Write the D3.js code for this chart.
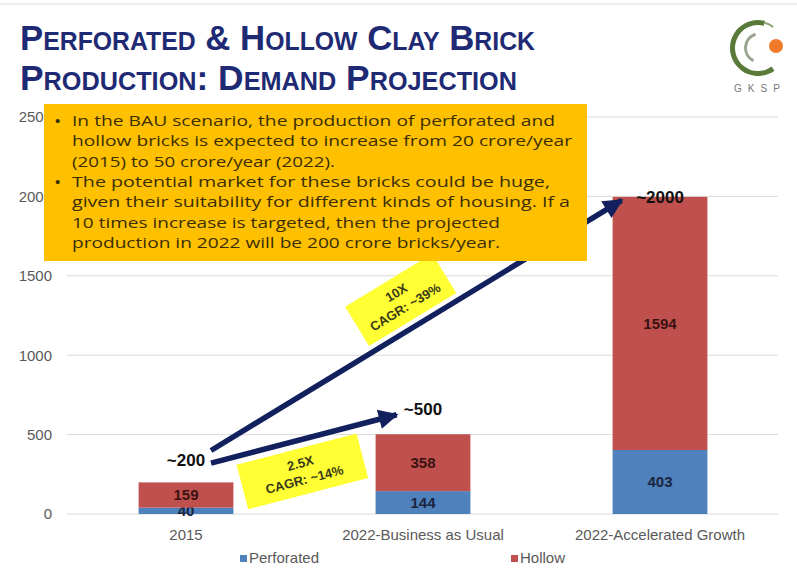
<!DOCTYPE html>
<html>
<head>
<meta charset="utf-8">
<script src="https://cdn.jsdelivr.net/npm/d3@7"></script>
<style>
  body { margin: 0; background: #fff; }
  svg { display: block; }
</style>
</head>
<body>
<div id="chart"></div>
<script>
// chart data
const categories = ["2015", "2022-Business as Usual", "2022-Accelerated Growth"];
const seriesNames = ["Perforated", "Hollow"];
const perforated = [40, 144, 403];
const hollow = [159, 358, 1594];
const totalLabels = ["~200", "~500", "~2000"];
const totalLabelVals = [340, 660, 2000];
const yTicks = [0, 500, 1000, 1500, 2000, 2500];

const titleLines = ["Perforated & Hollow Clay Brick", "Production: Demand Projection"];
const noteLines = [
    { bullet: true, text: "In the BAU scenario, the production of perforated and" },
    { bullet: false, text: "hollow bricks is expected to increase from 20 crore/year" },
    { bullet: false, text: "(2015) to 50 crore/year (2022)." },
    { bullet: true, text: "The potential market for these bricks could be huge," },
    { bullet: false, text: "given their suitability for different kinds of housing. If a" },
    { bullet: false, text: "10 times increase is targeted, then the projected" },
    { bullet: false, text: "production in 2022 will be 200 crore bricks/year." }
];
const noteWidths = [483, 500, 263, 478, 498, 428, 428];

// growth arrows: from the 2015 bar to the projected bars
const growth = [
    { to: 2, startVal: 400, endVal: 1975, dx: 9, factor: "10X", cagr: "CAGR: ~39%", t: 0.5, off: -30, w: 102, h: 46 },
    { to: 1, startVal: 320, endVal: 625, dx: 21, factor: "2.5X", cagr: "CAGR: ~14%", t: 0.45, off: 31, w: 124, h: 46 }
];

const colors = { Perforated: "#4f81bd", Hollow: "#c0504d" };

const width = 797, height = 569;
const svg = d3.select("#chart").append("svg")
    .attr("width", width)
    .attr("height", height)
    .style("font-family", "Arial, 'Liberation Sans', sans-serif");

// faint slide border at top
svg.append("line")
    .attr("x1", 0).attr("x2", width).attr("y1", 4).attr("y2", 4)
    .attr("stroke", "#eeeeee").attr("stroke-width", 2);

// Title
svg.selectAll("text.title")
    .data(titleLines)
    .enter().append("text")
    .attr("class", "title")
    .attr("x", 20)
    .attr("y", (d, i) => 50 + i * 40)
    .attr("font-family", "'Liberation Sans', Arial, sans-serif")
    .attr("font-size", 35)
    .attr("font-weight", "bold")
    .style("font-variant", "small-caps")
    .attr("fill", "#1f2a74")
    .attr("textLength", (d, i) => i === 0 ? 515 : 497)
    .attr("lengthAdjust", "spacingAndGlyphs")
    .text(d => d);

// Logo
const logo = svg.append("g").attr("transform", "translate(758,48)");
const arc = d3.arc();
logo.append("path")
    .attr("d", arc({ innerRadius: 23, outerRadius: 28, startAngle: Math.PI * 0.8, endAngle: Math.PI * 2.08 }))
    .attr("fill", "#5a7a3a");
logo.append("path")
    .attr("d", arc({ innerRadius: 25, outerRadius: 27, startAngle: Math.PI * 2.08, endAngle: Math.PI * 2.2 }))
    .attr("fill", "#8aa070");
logo.append("path")
    .attr("d", arc({ innerRadius: 13, outerRadius: 16, startAngle: Math.PI * 1.15, endAngle: Math.PI * 1.9 }))
    .attr("transform", "translate(2,0)")
    .attr("fill", "#9aa590");
logo.append("circle")
    .attr("cx", 18).attr("cy", -2).attr("r", 7)
    .attr("fill", "#f07a2a");
svg.append("text")
    .attr("x", 760).attr("y", 92)
    .attr("text-anchor", "middle")
    .attr("font-size", 10)
    .attr("letter-spacing", 6)
    .attr("fill", "#777")
    .text("GKSP");

// Scales
const x = d3.scaleBand()
    .domain(categories)
    .range([67.5, 778.5])
    .paddingInner(0.6)
    .paddingOuter(0.3);

const y = d3.scaleLinear()
    .domain([0, 2500])
    .range([514, 117]);

// gridlines
svg.append("g")
    .selectAll("line")
    .data(yTicks)
    .enter().append("line")
    .attr("x1", 67).attr("x2", 778)
    .attr("y1", d => y(d)).attr("y2", d => y(d))
    .attr("stroke", "#d9d9d9")
    .attr("stroke-width", 1);

// y axis labels
const yAxis = svg.append("g")
    .attr("transform", "translate(52,0)")
    .call(d3.axisLeft(y).tickValues(yTicks).tickFormat(d3.format("d")).tickSize(0).tickPadding(0));
yAxis.select(".domain").remove();
yAxis.selectAll("text")
    .attr("font-size", 15)
    .attr("font-family", "Arial, 'Liberation Sans', sans-serif")
    .attr("fill", "#595959");

// x axis labels
const xAxis = svg.append("g")
    .attr("transform", "translate(0,529)")
    .call(d3.axisBottom(x).tickSize(0).tickPadding(0));
xAxis.select(".domain").remove();
xAxis.selectAll("text")
    .attr("font-size", 15)
    .attr("font-family", "Arial, 'Liberation Sans', sans-serif")
    .attr("fill", "#595959");

// stacked bars
const rows = categories.map((c, i) => ({ category: c, Perforated: perforated[i], Hollow: hollow[i] }));
const stacked = d3.stack().keys(seriesNames)(rows);

const layers = svg.selectAll("g.layer")
    .data(stacked)
    .enter().append("g")
    .attr("class", "layer")
    .attr("fill", d => colors[d.key]);

layers.selectAll("rect")
    .data(d => d)
    .enter().append("rect")
    .attr("x", d => x(d.data.category))
    .attr("y", d => y(d[1]))
    .attr("width", x.bandwidth())
    .attr("height", d => y(d[0]) - y(d[1]));

layers.selectAll("text")
    .data(d => d.map(v => ({ v, key: d.key })))
    .enter().append("text")
    .attr("x", d => x(d.v.data.category) + x.bandwidth() / 2)
    .attr("y", d => y((d.v[0] + d.v[1]) / 2))
    .attr("dy", "0.36em")
    .attr("text-anchor", "middle")
    .attr("font-size", 15)
    .attr("font-weight", "bold")
    .attr("fill", d => d.key === "Hollow" ? "#3a1212" : "#1a2540")
    .text(d => d.v.data[d.key]);

// legend
const legend = svg.selectAll("g.legend")
    .data(seriesNames)
    .enter().append("g")
    .attr("class", "legend")
    .attr("transform", (d, i) => `translate(${i === 0 ? 240 : 511},563)`);
legend.append("rect")
    .attr("x", 0).attr("y", -8)
    .attr("width", 7).attr("height", 7)
    .attr("fill", d => colors[d]);
legend.append("text")
    .attr("x", 9).attr("y", 0)
    .attr("font-size", 15)
    .attr("fill", "#595959")
    .text(d => d);

// arrows
const defs = svg.append("defs");
defs.append("marker")
    .attr("id", "head")
    .attr("viewBox", "0 0 10 10")
    .attr("refX", 9).attr("refY", 5)
    .attr("markerWidth", 4.2).attr("markerHeight", 3.6)
    .attr("markerUnits", "strokeWidth")
    .attr("orient", "auto")
    .append("path")
    .attr("d", "M0,0 L10,5 L0,10 Z")
    .attr("fill", "#12215e");

const startX = x(categories[0]) + x.bandwidth() / 2 + 25;

growth.forEach(g => {
    const x1 = startX, y1 = y(g.startVal);
    const x2 = x(categories[g.to]) + g.dx, y2 = y(g.endVal);
    svg.append("line")
        .attr("x1", x1).attr("y1", y1)
        .attr("x2", x2).attr("y2", y2)
        .attr("stroke", "#12215e")
        .attr("stroke-width", 5.5)
        .attr("marker-end", "url(#head)");
});

// total labels
svg.selectAll("text.total")
    .data(totalLabels)
    .enter().append("text")
    .attr("class", "total")
    .attr("x", (d, i) => x(categories[i]) + x.bandwidth() / 2)
    .attr("y", (d, i) => y(totalLabelVals[i]))
    .attr("dy", "0.36em")
    .attr("text-anchor", "middle")
    .attr("font-size", 17)
    .attr("font-weight", "bold")
    .attr("fill", "#111")
    .text(d => d);

// yellow CAGR tags, rotated along the arrows
growth.forEach(g => {
    const x1 = startX, y1 = y(g.startVal);
    const x2 = x(categories[g.to]) + g.dx, y2 = y(g.endVal);
    const a = Math.atan2(y2 - y1, x2 - x1);
    const cx = x1 + (x2 - x1) * g.t - g.off * Math.sin(a);
    const cy = y1 + (y2 - y1) * g.t + g.off * Math.cos(a);
    const tag = svg.append("g")
        .attr("transform", `translate(${cx},${cy}) rotate(${a * 180 / Math.PI})`);
    tag.append("rect")
        .attr("x", -g.w / 2).attr("y", -g.h / 2)
        .attr("width", g.w).attr("height", g.h)
        .attr("fill", "#ffff33");
    tag.append("text")
        .attr("y", -4)
        .attr("text-anchor", "middle")
        .attr("font-size", 13)
        .attr("font-weight", "bold")
        .attr("fill", "#3a3a1a")
        .text(g.factor);
    tag.append("text")
        .attr("y", 13)
        .attr("text-anchor", "middle")
        .attr("font-size", 13)
        .attr("font-weight", "bold")
        .attr("fill", "#3a3a1a")
        .text(g.cagr);
});

// notes box
const note = svg.append("g");
note.append("rect")
    .attr("x", 44).attr("y", 104)
    .attr("width", 543).attr("height", 157)
    .attr("fill", "#ffc000");
note.selectAll("text.line")
    .data(noteLines)
    .enter().append("text")
    .attr("class", "line")
    .attr("x", 72)
    .attr("y", (d, i) => 126 + i * 20.3)
    .attr("font-family", "'Open Sans', sans-serif")
    .attr("font-size", 15)
    .attr("fill", "#3a2e05")
    .attr("textLength", (d, i) => noteWidths[i])
    .attr("lengthAdjust", "spacingAndGlyphs")
    .text(d => d.text);
note.selectAll("text.bullet")
    .data(noteLines.filter(d => d.bullet))
    .enter().append("text")
    .attr("class", "bullet")
    .attr("x", 55)
    .attr("y", (d, i) => 126 + i * 3 * 20.3)
    .attr("font-size", 15)
    .attr("fill", "#3a2e05")
    .text("•");
</script>
</body>
</html>
